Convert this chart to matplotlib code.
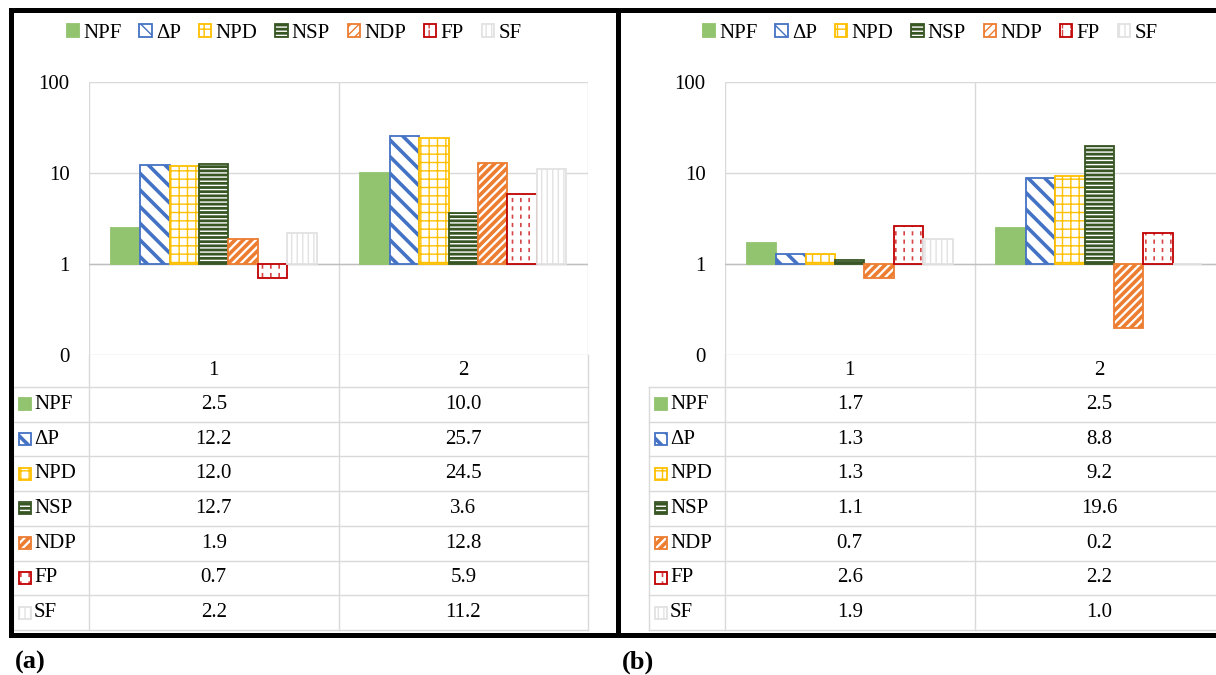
import numpy as np
import matplotlib
matplotlib.use("Agg")
import matplotlib.pyplot as plt
from matplotlib.patches import Patch, Rectangle
from matplotlib.legend_handler import HandlerTuple

plt.rcParams['font.family'] = ['Liberation Serif', 'DejaVu Serif']
plt.rcParams['font.size'] = 15

series = ['NPF', 'ΔP', 'NPD', 'NSP', 'NDP', 'FP', 'SF']
cases = ['1', '2']

# values per case, in the order of `series`
a_case1 = [2.5, 12.2, 12.0, 12.7, 1.9, 0.7, 2.2]
a_case2 = [10.0, 25.7, 24.5, 3.6, 12.8, 5.9, 11.2]
b_case1 = [1.7, 1.3, 1.3, 1.1, 0.7, 2.6, 1.9]
b_case2 = [2.5, 8.8, 9.2, 19.6, 0.2, 2.2, 1.0]

y_ticks = [0.1, 1, 10, 100]
y_tick_labels = ['0', '1', '10', '100']

# face, hatch, hatch colour, hatch width (pt), outline
styles = [
    ('#92C36E', None, None, 0, '#92C36E'),
    ('white', '\\\\', '#4472C4', 2.6, '#4472C4'),
    ('white', '++', '#FFC000', 1.0, '#FFC000'),
    ('#375623', '----', 'white', 1.0, '#375623'),
    ('white', '////', '#ED7D31', 2.6, '#ED7D31'),
    ('white', '||', '#D64545', 1.2, '#C00000'),
    ('white', '|||', '#E2E2E2', 1.0, '#E2E2E2'),
]

W, H = 1216, 675
GRID = '#D9D9D9'


def layer_specs(k):
    face, hatch, hc, hlw, edge = styles[k]
    specs = [dict(facecolor=face, edgecolor=hc or face, hatch=hatch,
                  linewidth=0, hlw=hlw or 1.0)]
    if series[k] == 'FP':
        # break the vertical lines into short dashes
        specs.append(dict(facecolor='none', edgecolor='white', hatch='--',
                          linewidth=0, hlw=3.0))
    specs.append(dict(facecolor='none', edgecolor=edge, linewidth=1.3,
                      hatch=None, hlw=1.0))
    return specs


def make_layers(make, k):
    out = []
    for spec in layer_specs(k):
        spec = dict(spec)
        hlw = spec.pop('hlw')
        with plt.rc_context({'hatch.linewidth': hlw}):
            arts = make(**spec)
        for a in (arts if isinstance(arts, (list, tuple)) or hasattr(arts, 'patches') else [arts]):
            if hasattr(a, 'set_hatch_linewidth'):
                a.set_hatch_linewidth(hlw)
        out.append(arts)
    return out


def px_axes(x0, y0, x1, y1):
    return fig.add_axes([x0 / W, 1 - y1 / H, (x1 - x0) / W, (y1 - y0) / H])


fig = plt.figure(figsize=(W / 100, H / 100), dpi=100)

# overlay in pixel units for frames and data tables
ov = fig.add_axes([0, 0, 1, 1])
ov.set_xlim(0, W)
ov.set_ylim(H, 0)
ov.axis('off')

col_w = 249.5
row_h = 34.7
table_top = 387
bar_w = 0.118


def draw_panel(x_axis, case1, case2, legend_cx, tag, frame_x0, frame_x1):
    ax = px_axes(x_axis, 82, x_axis + 2 * col_w, 355)
    ax.set_facecolor('none')
    ax.set_yscale('log')
    centers = np.arange(len(cases)) + 0.5
    vals = np.array([case1, case2])
    for k in range(len(series)):
        x = centers + (k - 3) * bar_w
        h = vals[:, k] - 1
        make_layers(lambda **kw: ax.bar(x, h, bar_w, bottom=1, zorder=3, **kw), k)

    ax.set_xlim(0, 2)
    ax.set_ylim(0.1, 100)
    ax.set_yticks(y_ticks, labels=y_tick_labels)
    ax.yaxis.set_minor_locator(matplotlib.ticker.NullLocator())
    ax.set_xticks(centers, labels=cases)
    ax.set_xticks([0, 1, 2], minor=True)
    ax.tick_params(axis='both', which='both', length=0)
    ax.tick_params(axis='y', pad=14)
    ax.tick_params(axis='x', pad=4)
    ax.grid(True, axis='y', which='major', color=GRID, linewidth=1.0, zorder=0)
    ax.grid(True, axis='x', which='minor', color=GRID, linewidth=1.0, zorder=0)
    ax.axhline(1, color='#BFBFBF', linewidth=1.0, zorder=2)
    for s in ax.spines.values():
        s.set_visible(False)

    # legend across the top
    handles = []
    for k in range(len(series)):
        parts = []
        for spec in layer_specs(k):
            spec = dict(spec)
            hlw = spec.pop('hlw')
            with plt.rc_context({'hatch.linewidth': hlw}):
                p = Patch(**spec)
            if hasattr(p, 'set_hatch_linewidth'):
                p.set_hatch_linewidth(hlw)
            parts.append(p)
        handles.append(tuple(parts))
    fig.legend(handles, series, loc='center',
               bbox_to_anchor=(legend_cx / W, 1 - 33 / H), ncol=7,
               frameon=False, handlelength=0.6, handleheight=0.6,
               handletextpad=0.2, columnspacing=0.85, borderpad=0,
               handler_map={tuple: HandlerTuple(ndivide=1, pad=0)})

    # data table
    left = x_axis - 76
    right = x_axis + 2 * col_w
    bottom = table_top + row_h * len(series)
    for r in range(len(series) + 1):
        y = table_top + r * row_h
        ov.plot([left, right], [y, y], color=GRID, linewidth=1.0)
    ov.plot([left, left], [table_top, bottom], color=GRID, linewidth=1.0)
    for c in range(3):
        xc = x_axis + c * col_w
        ov.plot([xc, xc], [355, bottom], color=GRID, linewidth=1.0)
    for k, name in enumerate(series):
        yc = table_top + (k + 0.5) * row_h
        make_layers(lambda **kw: ov.add_patch(
            Rectangle((left + 6, yc - 6), 12, 12, **kw)), k)
        ov.text(left + 21, yc, name, ha='left', va='center')
        for c, v in enumerate((case1[k], case2[k])):
            ov.text(x_axis + (c + 0.5) * col_w, yc, f'{v:.1f}',
                    ha='center', va='center')

    ov.add_patch(Rectangle((frame_x0, 9.5), frame_x1 - frame_x0, 625,
                           fill=False, edgecolor='black', linewidth=3.6,
                           clip_on=False, zorder=10))
    ov.text(frame_x0 + 4, 662, tag, ha='left', va='center',
            fontweight='bold', fontsize=19)


draw_panel(89, a_case1, a_case2, 294, '(a)', 10.5, 617.5)
draw_panel(725, b_case1, b_case2, 930, '(b)', 617.5, 1240)

fig.savefig('out.png', dpi=100, facecolor='white')
